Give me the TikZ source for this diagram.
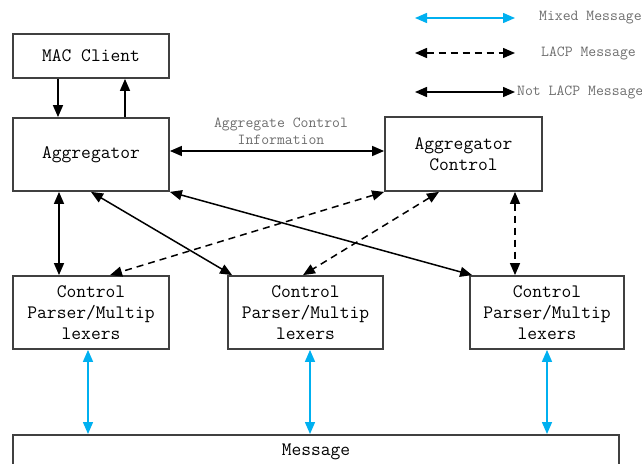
\documentclass[tikz,border=0pt]{standalone}
\usepackage{fontspec}
\usetikzlibrary{arrows.meta}
\definecolor{mixblue}{RGB}{0,176,240}
\definecolor{lblgray}{RGB}{110,110,110}
\begin{document}
\begin{tikzpicture}[x=1pt,y=-1pt,
  >={Triangle[length=12pt,width=10pt]},
  box/.style={draw=black!75,line width=1.8pt,fill=white,inner sep=0pt,
    font=\fontsize{19}{21}\selectfont\ttfamily,align=center},
  conn/.style={line width=1.5pt,<->},
  one/.style={line width=1.5pt,->},
  lacp/.style={conn,dash pattern=on 7pt off 5pt},
  mixed/.style={conn,draw=mixblue,fill=mixblue},
  lbl/.style={text=lblgray,inner sep=0pt,font=\fontsize{15.3}{17}\selectfont\ttfamily,align=center}]
\useasboundingbox (0,0) rectangle (642,463);
\fill[white] (0,0) rectangle (642,463);

% boxes
\node[box,minimum width=156pt,minimum height=44pt] (mac) at (91,56) {MAC Client};
\node[box,minimum width=156pt,minimum height=73pt] (agg) at (91,154.5) {Aggregator};
\node[box,minimum width=157pt,minimum height=74pt] (ctrl) at (463.5,154) {Aggregator\\Control};
\node[box,minimum width=156pt,minimum height=73pt] (p1) at (91,312.5) {Control\\Parser/Multip\\lexers};
\node[box,minimum width=155pt,minimum height=73pt] (p2) at (305.5,312.5) {Control\\Parser/Multip\\lexers};
\node[box,minimum width=154pt,minimum height=73pt] (p3) at (547,312.5) {Control\\Parser/Multip\\lexers};
\node[box,minimum width=606pt,minimum height=34pt,anchor=north] (msg) at (316,434) {Message};

% connectors
\draw[one] (58,0 |- mac.south) -- (58,0 |- agg.north);
\draw[one] (125,0 |- agg.north) -- (125,0 |- mac.south);
\draw[conn] ([yshift=3.5pt]agg.east) -- ([yshift=3pt]ctrl.west);
\node[lbl] (acinfo) at (281,131) {Aggregate Control\\Information};
\draw[conn] (59,0 |- agg.south) -- (59,0 |- p1.north);
\draw[conn] (91,0 |- agg.south) -- ([xshift=5pt]p2.north west);
\draw[conn] (agg.south east) -- ([xshift=3pt]p3.north west);
\draw[lacp] (ctrl.south west) -- (110,0 |- p1.north);
\draw[lacp] (439,0 |- ctrl.south) -- (303,0 |- p2.north);
\draw[lacp] (515,0 |- ctrl.south) -- (515,0 |- p3.north);
\draw[mixed] (88,0 |- p1.south) -- (88,0 |- msg.north);
\draw[mixed] (310,0 |- p2.south) -- (310,0 |- msg.north);
\draw[mixed] (547,0 |- p3.south) -- (547,0 |- msg.north);

% legend
\coordinate (la1) at (415,18); \coordinate (lb1) at (515,18);
\coordinate (la2) at (415,53); \coordinate (lb2) at (515,53);
\coordinate (la3) at (415,92); \coordinate (lb3) at (515,92);
\draw[mixed] (la1) -- (lb1);
\draw[lacp] (la2) -- (lb2);
\draw[conn] (la3) -- (lb3);
\node[lbl,anchor=west] (lt1) at (539,18) {Mixed Message};
\node[lbl,anchor=west] (lt2) at (541,53) {LACP Message};
\node[lbl,anchor=west] (lt3) at (517,92) {Not LACP Message};
\end{tikzpicture}
\end{document}
